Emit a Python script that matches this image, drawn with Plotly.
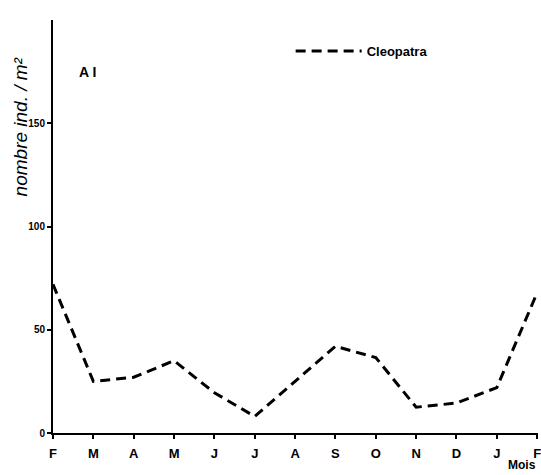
import plotly.graph_objects as go

# Monthly densities (individuals per m²), February to the following February
months = ["F", "M", "A", "M", "J", "J", "A", "S", "O", "N", "D", "J", "F"]
cleopatra = [72, 25, 27, 35, 19.5, 8, 25, 42, 36.5, 12.5, 14.5, 22, 68]
y_ticks = [0, 50, 100, 150]

x_pos = list(range(len(months)))

fig = go.Figure()
fig.add_trace(go.Scatter(
    x=x_pos, y=cleopatra, mode="lines", name="Cleopatra",
    line=dict(color="black", width=3, dash="10px,6px"),
))

tick_font = dict(family="Liberation Sans", size=13, color="black", weight="bold")

fig.update_layout(
    width=541, height=475,
    margin=dict(l=53, r=0, t=20, b=42),
    paper_bgcolor="white", plot_bgcolor="white",
    showlegend=True,
    legend=dict(
        x=0.49, y=0.925, xanchor="left", yanchor="middle",
        bgcolor="rgba(0,0,0,0)", itemwidth=66,
        font=dict(family="Liberation Sans", size=13, color="black", weight="bold"),
    ),
    xaxis=dict(
        range=[0, 12.02], tickmode="array", tickvals=x_pos, ticktext=months,
        showline=True, linecolor="black", linewidth=2, showgrid=False, zeroline=False,
        ticks="outside", ticklen=4, tickwidth=1.5, tickcolor="black",
        tickfont=tick_font, ticklabelstandoff=3, ticklabeloverflow="allow",
    ),
    yaxis=dict(
        range=[0, 200], tickmode="array", tickvals=y_ticks,
        showline=True, linecolor="black", linewidth=2, showgrid=False, zeroline=False,
        ticks="outside", ticklen=4, tickwidth=1.5, tickcolor="black",
        tickfont=dict(family="Liberation Sans Narrow, Liberation Sans", size=10,
                      color="black", weight="bold"),
    ),
    annotations=[
        dict(text="nombre ind. / m²", xref="paper", yref="paper",
             x=-0.068, y=0.74, xanchor="center", yanchor="middle", textangle=-90,
             showarrow=False,
             font=dict(family="Liberation Sans", size=19, color="black", style="italic")),
        dict(text="A I", xref="paper", yref="paper", x=0.05, y=0.873,
             xanchor="left", yanchor="middle", showarrow=False,
             font=dict(family="Liberation Sans", size=14, color="black", weight="bold")),
        dict(text="Mois", xref="paper", yref="paper", x=1.0, y=-0.078,
             xanchor="right", yanchor="middle", showarrow=False,
             font=dict(family="Liberation Sans", size=12, color="black", weight="bold")),
    ],
)

fig.write_html("out.html")
